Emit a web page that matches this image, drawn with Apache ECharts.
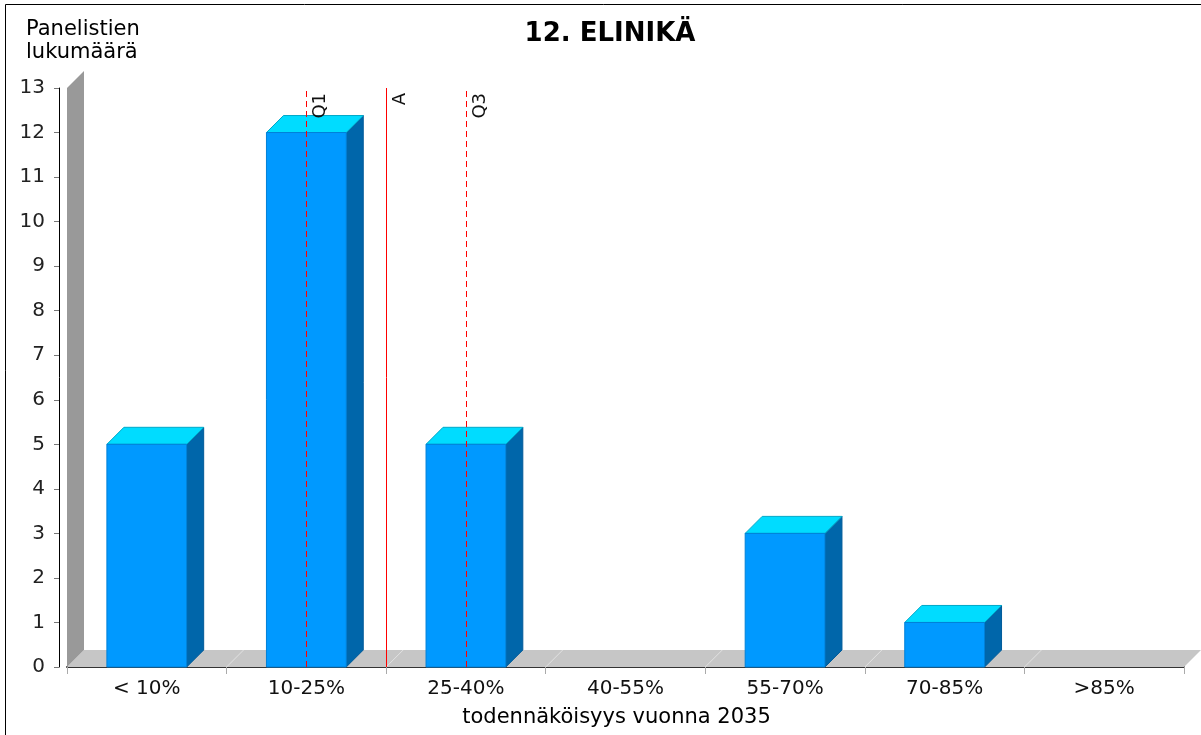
<!DOCTYPE html>
<html>
<head>
<meta charset="utf-8">
<script src="https://cdn.jsdelivr.net/npm/echarts@6/dist/echarts.min.js"></script>
<style>
html,body{margin:0;padding:0;background:#fff;}
#chart{width:1201px;height:735px;}
</style>
</head>
<body>
<div id="chart"></div>
<script>
// ---- data ----
const titleText = '12. ELINIKÄ';
const yAxisTitle = 'Panelistien\nlukumäärä';
const xAxisTitle = 'todennäköisyys vuonna 2035';
const categories = ['< 10%', '10-25%', '25-40%', '40-55%', '55-70%', '70-85%', '>85%'];
const counts = [5, 12, 5, 0, 3, 1, 0];
const yMin = 0;
const yMax = 13;
const yInterval = 1;
// marker positions expressed in category-index units (1 = centre of "10-25%")
const markerNames = ['Q1', 'A', 'Q3'];
const markerPositions = [1, 1.5, 2];
const markerDashed = [true, false, true];

// ---- styling constants ----
const DEPTH = 17;
const FONT = 'DejaVu Sans';

const chart = echarts.init(document.getElementById('chart'), null, {renderer: 'canvas'});

const barData = categories.map((c, i) => [i, counts[i]]);

const markLineData = markerNames.map((n, i) => ({
  xAxis: markerPositions[i],
  lineStyle: {color: '#ff0000', width: 1, type: markerDashed[i] ? [6, 4] : 'solid'},
  label: {formatter: n}
}));

const option = {
  animation: false,
  backgroundColor: '#ffffff',
  title: [
    {text: titleText, left: 605, top: 16, textAlign: 'center',
     textStyle: {fontFamily: FONT, fontSize: 26, fontWeight: 'bold', color: '#000'}},
    {text: yAxisTitle, left: 21, top: 13,
     textStyle: {fontFamily: FONT, fontSize: 21, fontWeight: 'normal', color: '#000', lineHeight: 23}}
  ],
  graphic: [
    {type: 'rect', shape: {x: 5.5, y: 4.5, width: 1400, height: 1000},
     style: {fill: null, stroke: '#000', lineWidth: 1}, silent: true, z: 100}
  ],
  grid: {left: 67, right: 17, top: 88, bottom: 68, containLabel: false},
  xAxis: [
    {
      type: 'category', data: categories, boundaryGap: true,
      name: xAxisTitle, nameLocation: 'middle', nameGap: 40,
      nameTextStyle: {fontFamily: FONT, fontSize: 21, color: '#000', padding: [0, 18, 0, 0]},
      axisLine: {show: true, onZero: false, lineStyle: {color: '#333', width: 2}},
      axisTick: {show: true, length: 7, lineStyle: {color: '#aaa'}},
      axisLabel: {fontFamily: FONT, fontSize: 20, color: '#111', margin: 12},
      splitLine: {show: false}
    },
    {
      type: 'value', min: -0.5, max: 6.5, show: false
    }
  ],
  yAxis: {
    type: 'value', min: yMin, max: yMax, interval: yInterval,
    offset: 8,
    axisLine: {show: true, onZero: false, lineStyle: {color: '#000', width: 1}},
    axisTick: {show: true, length: 5, lineStyle: {color: '#777'}},
    axisLabel: {fontFamily: FONT, fontSize: 20, color: '#222', margin: 14},
    splitLine: {show: false}
  },
  series: [
    {
      // back wall and floor of the 3D plot
      type: 'custom', xAxisIndex: 1, yAxisIndex: 0, z: 1, silent: true,
      data: [[0, 0]],
      renderItem: function (params, api) {
        const fl = api.coord([-0.5, yMin]);
        const fr = api.coord([categories.length - 0.5, yMin]);
        const tl = api.coord([-0.5, yMax]);
        const d = DEPTH;
        const children = [];
        children.push({type: 'polygon', shape: {points: [[fl[0], fl[1]], [fl[0] + d, fl[1] - d], [fr[0] + d, fr[1] - d], [fr[0], fr[1]]]},
          style: {fill: '#c6c6c6'}});
        for (let k = 1; k < categories.length; k++) {
          const p = api.coord([k - 0.5, yMin]);
          children.push({type: 'line', shape: {x1: p[0], y1: p[1], x2: p[0] + d, y2: p[1] - d},
            style: {stroke: '#e2e2e2', lineWidth: 1}});
        }
        children.push({type: 'polygon', shape: {points: [[fl[0], fl[1]], [tl[0], tl[1]], [tl[0] + d, tl[1] - d], [fl[0] + d, fl[1] - d]]},
          style: {fill: '#999999'}});
        return {type: 'group', children: children};
      }
    },
    {
      // 3D bars
      type: 'custom', xAxisIndex: 0, yAxisIndex: 0, z: 2, silent: true,
      data: barData,
      renderItem: function (params, api) {
        const idx = api.value(0);
        const v = api.value(1);
        if (!v) return {type: 'group', children: []};
        const base = api.coord([idx, 0]);
        const top = api.coord([idx, v]);
        const w = api.size([1, 0])[0] * 0.5;
        const x0 = base[0] - w / 2, x1 = base[0] + w / 2;
        const yb = base[1], yt = top[1];
        const d = DEPTH;
        return {
          type: 'group',
          children: [
            {type: 'polygon', shape: {points: [[x1, yt], [x1 + d, yt - d], [x1 + d, yb - d], [x1, yb]]},
              style: {fill: '#0066aa', stroke: '#005a99', lineWidth: 1}},
            {type: 'polygon', shape: {points: [[x0, yt], [x0 + d, yt - d], [x1 + d, yt - d], [x1, yt]]},
              style: {fill: '#00dcff', stroke: '#00a8c8', lineWidth: 1}},
            {type: 'rect', shape: {x: x0, y: yt, width: w, height: yb - yt},
              style: {fill: '#0099ff', stroke: '#0080d8', lineWidth: 1}}
          ]
        };
      }
    },
    {
      // marker lines Q1 / A / Q3
      type: 'line', xAxisIndex: 1, yAxisIndex: 0, z: 5, data: [],
      markLine: {
        silent: true, symbol: 'none', animation: false,
        label: {show: true, position: 'insideEndBottom', distance: 5,
          fontFamily: FONT, fontSize: 18, color: '#111'},
        emphasis: {disabled: true},
        data: markLineData
      }
    }
  ]
};
chart.setOption(option);
</script>
</body>
</html>
